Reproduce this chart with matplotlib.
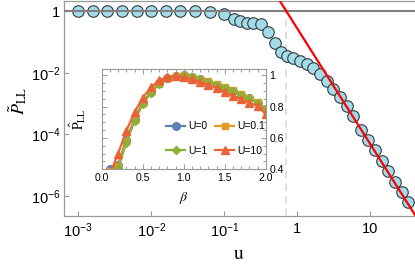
import numpy as np
import matplotlib
matplotlib.use("Agg")
import matplotlib.pyplot as plt
from matplotlib.ticker import FixedLocator, FixedFormatter, MultipleLocator, NullLocator

plt.rcParams['font.family'] = ['Liberation Sans', 'DejaVu Sans']
plt.rcParams['mathtext.fontset'] = 'custom'
plt.rcParams['mathtext.rm'] = 'Liberation Sans'
plt.rcParams['mathtext.it'] = 'Liberation Sans:italic'

# ---- main data ----
u = [0.001, 0.00158, 0.00251, 0.00398, 0.00631, 0.01, 0.0158, 0.0251, 0.0398,
     0.0631, 0.1, 0.135, 0.164, 0.204, 0.251, 0.316, 0.394, 0.495, 0.598,
     0.730, 0.881, 1.09, 1.34, 1.64, 2.05, 2.53, 3.11, 3.85, 4.75, 5.85,
     7.46, 9.29, 11.6, 14.5, 17.5, 21.8, 27.2, 32.4]
P = [1.0, 1.0, 1.0, 1.0, 1.0, 1.0, 1.0, 1.0, 1.0,
     0.91, 0.79, 0.575, 0.479, 0.398, 0.427, 0.372, 0.214, 0.0933, 0.0479,
     0.0347, 0.0309, 0.0245, 0.0191, 0.0138, 0.00912, 0.00537, 0.00309, 0.00162, 8.32e-4, 3.98e-4,
     1.38e-4, 6.61e-5, 3.09e-5, 1.38e-5, 6.46e-6, 2.88e-6, 1.35e-6, 6.46e-7]

fit_coef = 0.272
fit_exp = -3.75
u_star = 0.693  # ln 2

xticks = [1e-3, 1e-2, 1e-1, 1, 10]
xticklabels = ['$10^{-3}$', '$10^{-2}$', '$10^{-1}$', '1', '10']
yticks = [1, 1e-2, 1e-4, 1e-6]
yticklabels = ['1', '$10^{-2}$', '$10^{-4}$', '$10^{-6}$']

# ---- inset data ----
beta = [0.1, 0.2, 0.3, 0.4, 0.5, 0.6, 0.7, 0.8, 0.9, 1.0,
        1.1, 1.2, 1.3, 1.4, 1.5, 1.6, 1.7, 1.8, 1.9, 2.0]
P_U0 = [0.40, 0.43, 0.59, 0.72, 0.825, 0.895, 0.948, 0.982, 0.997, 1.0,
        0.99, 0.975, 0.96, 0.94, 0.92, 0.90, 0.876, 0.852, 0.826, 0.782]
P_U01 = [0.39, 0.42, 0.58, 0.715, 0.82, 0.892, 0.946, 0.981, 0.996, 1.0,
         0.992, 0.978, 0.963, 0.944, 0.924, 0.904, 0.881, 0.857, 0.831, 0.788]
P_U1 = [0.25, 0.41, 0.57, 0.71, 0.815, 0.89, 0.945, 0.98, 0.995, 1.0,
        0.99, 0.975, 0.96, 0.94, 0.918, 0.897, 0.874, 0.85, 0.825, 0.78]
P_U10 = [0.37, 0.50, 0.646, 0.763, 0.858, 0.922, 0.968, 0.989, 0.997, 0.987,
         0.975, 0.955, 0.939, 0.918, 0.893, 0.869, 0.848, 0.826, 0.805, 0.752]
inset_series = [("U=0", P_U0, '#5E81B5', 'o', 5.5),
                ("U=0.1", P_U01, '#E19C24', 's', 4.5),
                ("U=1", P_U1, '#8FB032', 'D', 4.2),
                ("U=10", P_U10, '#EB6235', '^', 5.5)]

fig = plt.figure(figsize=(4.15, 2.65), dpi=100)
ax = fig.add_axes([0.1554, 0.1849, 0.8446, 0.8126])
ax.set_xscale('log')
ax.set_yscale('log')
ax.set_xlim(10**-3.189, 10**1.612)
ax.set_ylim(10**-6.645, 10**0.34)

ax.axvline(u_star, color='#dddddd', lw=1.3, ls=(0, (4, 3)), zorder=1)
ax.plot(u, P, 'o', ms=8.3, mfc='#a4dbe8', mec='#2f3b40', mew=0.8, zorder=3)
ax.axhline(1.0, color='#808080', lw=1.5, zorder=4)
uf = np.logspace(-0.5, 1.8, 50)
ax.plot(uf, fit_coef * uf**fit_exp, color='#ff0000', lw=1.6, zorder=5)

ax.xaxis.set_major_locator(FixedLocator(xticks))
ax.xaxis.set_major_formatter(FixedFormatter(xticklabels))
ax.xaxis.set_minor_locator(NullLocator())
ax.yaxis.set_major_locator(FixedLocator(yticks))
ax.yaxis.set_major_formatter(FixedFormatter(yticklabels))
ax.yaxis.set_minor_locator(NullLocator())
ax.tick_params(direction='in', length=3.5, width=0.8, color='#999999',
               labelsize=10.5, pad=4)
ax.tick_params(axis='y', pad=3)
for s in ['left', 'bottom', 'top']:
    ax.spines[s].set_color('#999999')
    ax.spines[s].set_linewidth(0.9)
ax.spines['right'].set_visible(False)

fig.text(0.575, 0.038, r'$\mathrm{u}$', fontsize=14, ha='center', va='center',
         math_fontfamily='stix')
fig.text(0.043, 0.62, r'$\tilde{P}_{\mathrm{LL}}$', fontsize=13, ha='center',
         va='center', rotation=90, math_fontfamily='stix')

# ---- inset ----
axi = fig.add_axes([0.2451, 0.3611, 0.3952, 0.3785])
handles = {}
for lab, vals, col, mk, ms in inset_series:
    h, = axi.plot(beta, vals, color=col, lw=1.6, marker=mk, ms=ms, mec=col,
                  label=lab)
    handles[lab] = h
axi.set_xlim(0, 2)
axi.set_ylim(0.4, 1.04)
axi.xaxis.set_major_locator(FixedLocator([0, 0.5, 1.0, 1.5, 2.0]))
axi.xaxis.set_major_formatter(FixedFormatter(['0.0', '0.5', '1.0', '1.5', '2.0']))
axi.xaxis.set_minor_locator(MultipleLocator(0.1))
axi.yaxis.set_major_locator(FixedLocator([0.4, 0.6, 0.8, 1.0]))
axi.yaxis.set_major_formatter(FixedFormatter(['0.4', '0.6', '0.8', '1']))
axi.yaxis.set_minor_locator(MultipleLocator(0.05))
axi.tick_params(which='both', direction='in', color='#999999', width=0.7,
                top=True, right=True, left=True, bottom=True,
                labelleft=False, labelright=True, labelsize=7.5, pad=2.5)
axi.tick_params(which='major', length=3.5)
axi.tick_params(which='minor', length=2)
for s in axi.spines.values():
    s.set_color('#999999')
    s.set_linewidth(0.8)
axi.set_xlabel(r'$\beta$', fontsize=10, math_fontfamily='stix', labelpad=5)
axi.yaxis.set_label_position('left')
axi.set_ylabel(r'$\hat{\mathrm{P}}_{\mathrm{LL}}$', fontsize=10, math_fontfamily='stix',
               labelpad=10)
order = ["U=0", "U=1", "U=0.1", "U=10"]
leg = axi.legend([handles[k] for k in order], order, ncol=2, loc='center left',
                 bbox_to_anchor=(0.39, 0.307),
                 frameon=False, fontsize=7.5, borderpad=0, borderaxespad=0,
                 handlelength=1.9, handletextpad=0.25, columnspacing=0.7,
                 labelspacing=1.4)

fig.savefig('out.png', dpi=100)
